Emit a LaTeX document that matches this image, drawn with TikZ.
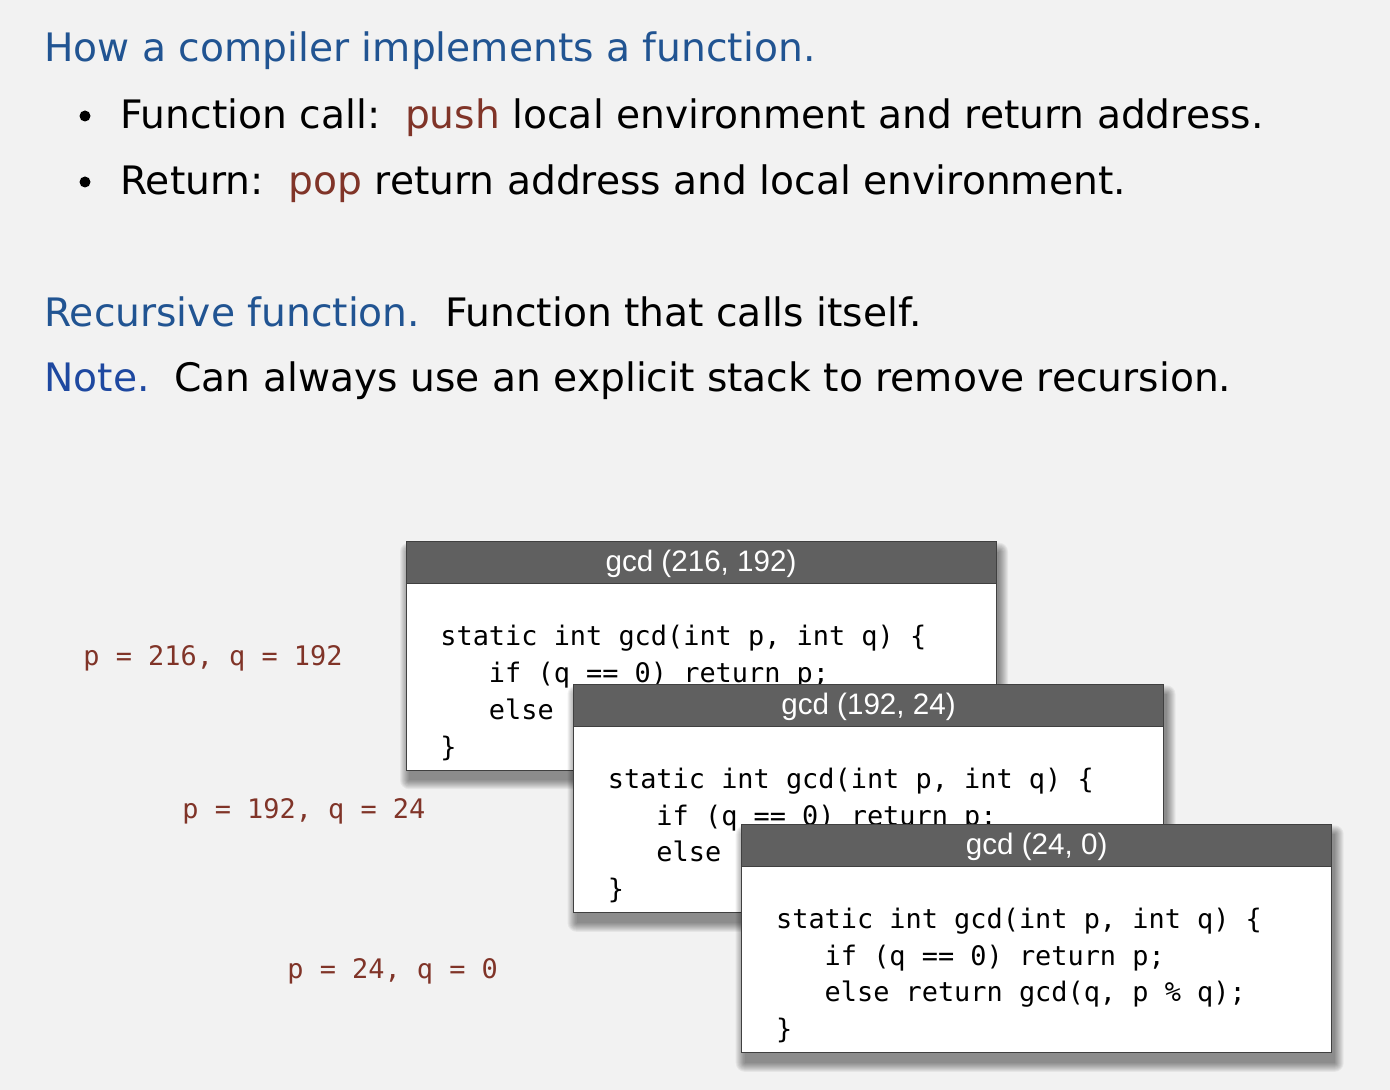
\documentclass[tikz,border=0pt]{standalone}
\usepackage{fontspec}
\setmainfont{DejaVu Sans}
\newfontfamily\codefont{DejaVu Sans Mono}
\newfontfamily\headfont{Liberation Sans}
\usepackage{xcolor}
\usepackage{tikz}

\definecolor{bggray}{RGB}{242,242,242}
\definecolor{headblue}{RGB}{33,84,146}
\definecolor{noteblue}{RGB}{30,72,160}
\definecolor{popbrown}{RGB}{128,52,40}
\definecolor{headgray}{RGB}{96,96,96}

\begin{document}
\begin{tikzpicture}[x=0.5pt,y=-0.5pt]
% 1 = 1px of the slide
    \def\BOXW{590} %width of frames
    \def\BOXH{228.5}
    \def\HEADH{42} %height of title bar
    \def\CODEX{34} %
    \def\CODEY{104} %
    \def\LINE{36.8} %

    %FIRST frame
    \def\XONE{406}
    \def\YONE{541.7}
    %SECOND frame
    \def\XTWO{573.5}
    \def\YTWO{684.3}
    %THIRD frame
    \def\XTHREE{741.7}
    \def\YTHREE{824.3}

    \tikzset{
      bodytext/.style={anchor=base west,inner sep=0pt,
        font=\fontsize{19.6pt}{24pt}\selectfont},
      pqlabel/.style={anchor=base west,inner sep=0pt,text=popbrown,
        font=\codefont\fontsize{13.45pt}{16pt}\selectfont},
      codeline/.style={anchor=base west,inner sep=0pt,
        font=\codefont\fontsize{13.45pt}{16pt}\selectfont},
      headtext/.style={anchor=base,inner sep=0pt,text=white,
        font=\headfont\fontsize{14.8pt}{17pt}\selectfont},
      boxbody/.style={fill=white,draw=black!75,line width=0.5pt},
      boxhead/.style={fill=headgray,draw=black!75,line width=0.5pt},
      shadowlayer/.style={fill=black,opacity=0.05},
    }

    \fill[bggray] (0,0) rectangle (1390,1090);
    \useasboundingbox (0,0) rectangle (1390,1090);

    % TEXT OF THE SLIDE
    \node[bodytext] (howline) at (44,61.7)
        {\textcolor{headblue}{How a compiler implements a function.}};
    \fill (85,116) circle[radius=2.75pt];
    \node[bodytext] (callline) at (120,128.3)
        {Function call:\ \ \textcolor{popbrown}{push} local environment and return address.};
    \fill (85,182) circle[radius=2.75pt];
    \node[bodytext] (returnline) at (120,195)
        {Return:\ \ \textcolor{popbrown}{pop} return address and local environment.};
    \node[bodytext] (recline) at (44,327)
        {\textcolor{headblue}{Recursive function.}\ \ Function that calls itself.};
    \node[bodytext] (noteline) at (44,392)
        {\textcolor{noteblue}{Note.}\ \ Can always use an explicit stack to remove recursion.};

    % ARGUMENTS
    \node[pqlabel] (pqone) at (83,665) {p = 216, q = 192};
    \node[pqlabel] (pqtwo) at (182,818.3) {p = 192, q = 24};
    \node[pqlabel] (pqthree) at (287,978.3) {p = 24, q = 0};

    % FIRST FRAME
    \foreach \s in {0,...,9}
        \fill[shadowlayer,rounded corners={\s*0.5pt}]
            (\XONE+3-\s,\YONE+10-\s) rectangle (\XONE+\BOXW+3+\s,\YONE+\BOXH+10+\s);
    \draw[boxbody] (\XONE,\YONE) rectangle (\XONE+\BOXW,\YONE+\BOXH);
    \draw[boxhead] (\XONE,\YONE) rectangle (\XONE+\BOXW,\YONE+\HEADH);
    \node[headtext] (titleone) at (\XONE+\BOXW/2,\YONE+30) {gcd (216, 192)};
    \node[codeline] (sigone) at (\XONE+\CODEX,\YONE+\CODEY)
        {static int gcd(int p, int q) \{};
    \node[codeline] (ifone) at (\XONE+\CODEX,\YONE+\CODEY+\LINE)
        {\ \ \ if (q == 0) return p;};
    \node[codeline] (elseone) at (\XONE+\CODEX,\YONE+\CODEY+2*\LINE)
        {\ \ \ else return gcd(q, p \% q);};
    \node[codeline] (endone) at (\XONE+\CODEX,\YONE+\CODEY+3*\LINE) {\}};

    % SECOND FRAME
    \foreach \s in {0,...,9}
        \fill[shadowlayer,rounded corners={\s*0.5pt}]
            (\XTWO+3-\s,\YTWO+10-\s) rectangle (\XTWO+\BOXW+3+\s,\YTWO+\BOXH+10+\s);
    \draw[boxbody] (\XTWO,\YTWO) rectangle (\XTWO+\BOXW,\YTWO+\BOXH);
    \draw[boxhead] (\XTWO,\YTWO) rectangle (\XTWO+\BOXW,\YTWO+\HEADH);
    \node[headtext] (titletwo) at (\XTWO+\BOXW/2,\YTWO+30) {gcd (192, 24)};
    \node[codeline] (sigtwo) at (\XTWO+\CODEX,\YTWO+\CODEY)
        {static int gcd(int p, int q) \{};
    \node[codeline] (iftwo) at (\XTWO+\CODEX,\YTWO+\CODEY+\LINE)
        {\ \ \ if (q == 0) return p;};
    \node[codeline] (elsetwo) at (\XTWO+\CODEX,\YTWO+\CODEY+2*\LINE)
        {\ \ \ else return gcd(q, p \% q);};
    \node[codeline] (endtwo) at (\XTWO+\CODEX,\YTWO+\CODEY+3*\LINE) {\}};

    % THIRD FRAME
    \foreach \s in {0,...,9}
        \fill[shadowlayer,rounded corners={\s*0.5pt}]
            (\XTHREE+3-\s,\YTHREE+10-\s) rectangle (\XTHREE+\BOXW+3+\s,\YTHREE+\BOXH+10+\s);
    \draw[boxbody] (\XTHREE,\YTHREE) rectangle (\XTHREE+\BOXW,\YTHREE+\BOXH);
    \draw[boxhead] (\XTHREE,\YTHREE) rectangle (\XTHREE+\BOXW,\YTHREE+\HEADH);
    \node[headtext] (titlethree) at (\XTHREE+\BOXW/2,\YTHREE+30) {gcd (24, 0)};
    \node[codeline] (sigthree) at (\XTHREE+\CODEX,\YTHREE+\CODEY)
        {static int gcd(int p, int q) \{};
    \node[codeline] (ifthree) at (\XTHREE+\CODEX,\YTHREE+\CODEY+\LINE)
        {\ \ \ if (q == 0) return p;};
    \node[codeline] (elsethree) at (\XTHREE+\CODEX,\YTHREE+\CODEY+2*\LINE)
        {\ \ \ else return gcd(q, p \% q);};
    \node[codeline] (endthree) at (\XTHREE+\CODEX,\YTHREE+\CODEY+3*\LINE) {\}};

\end{tikzpicture}
\end{document}
